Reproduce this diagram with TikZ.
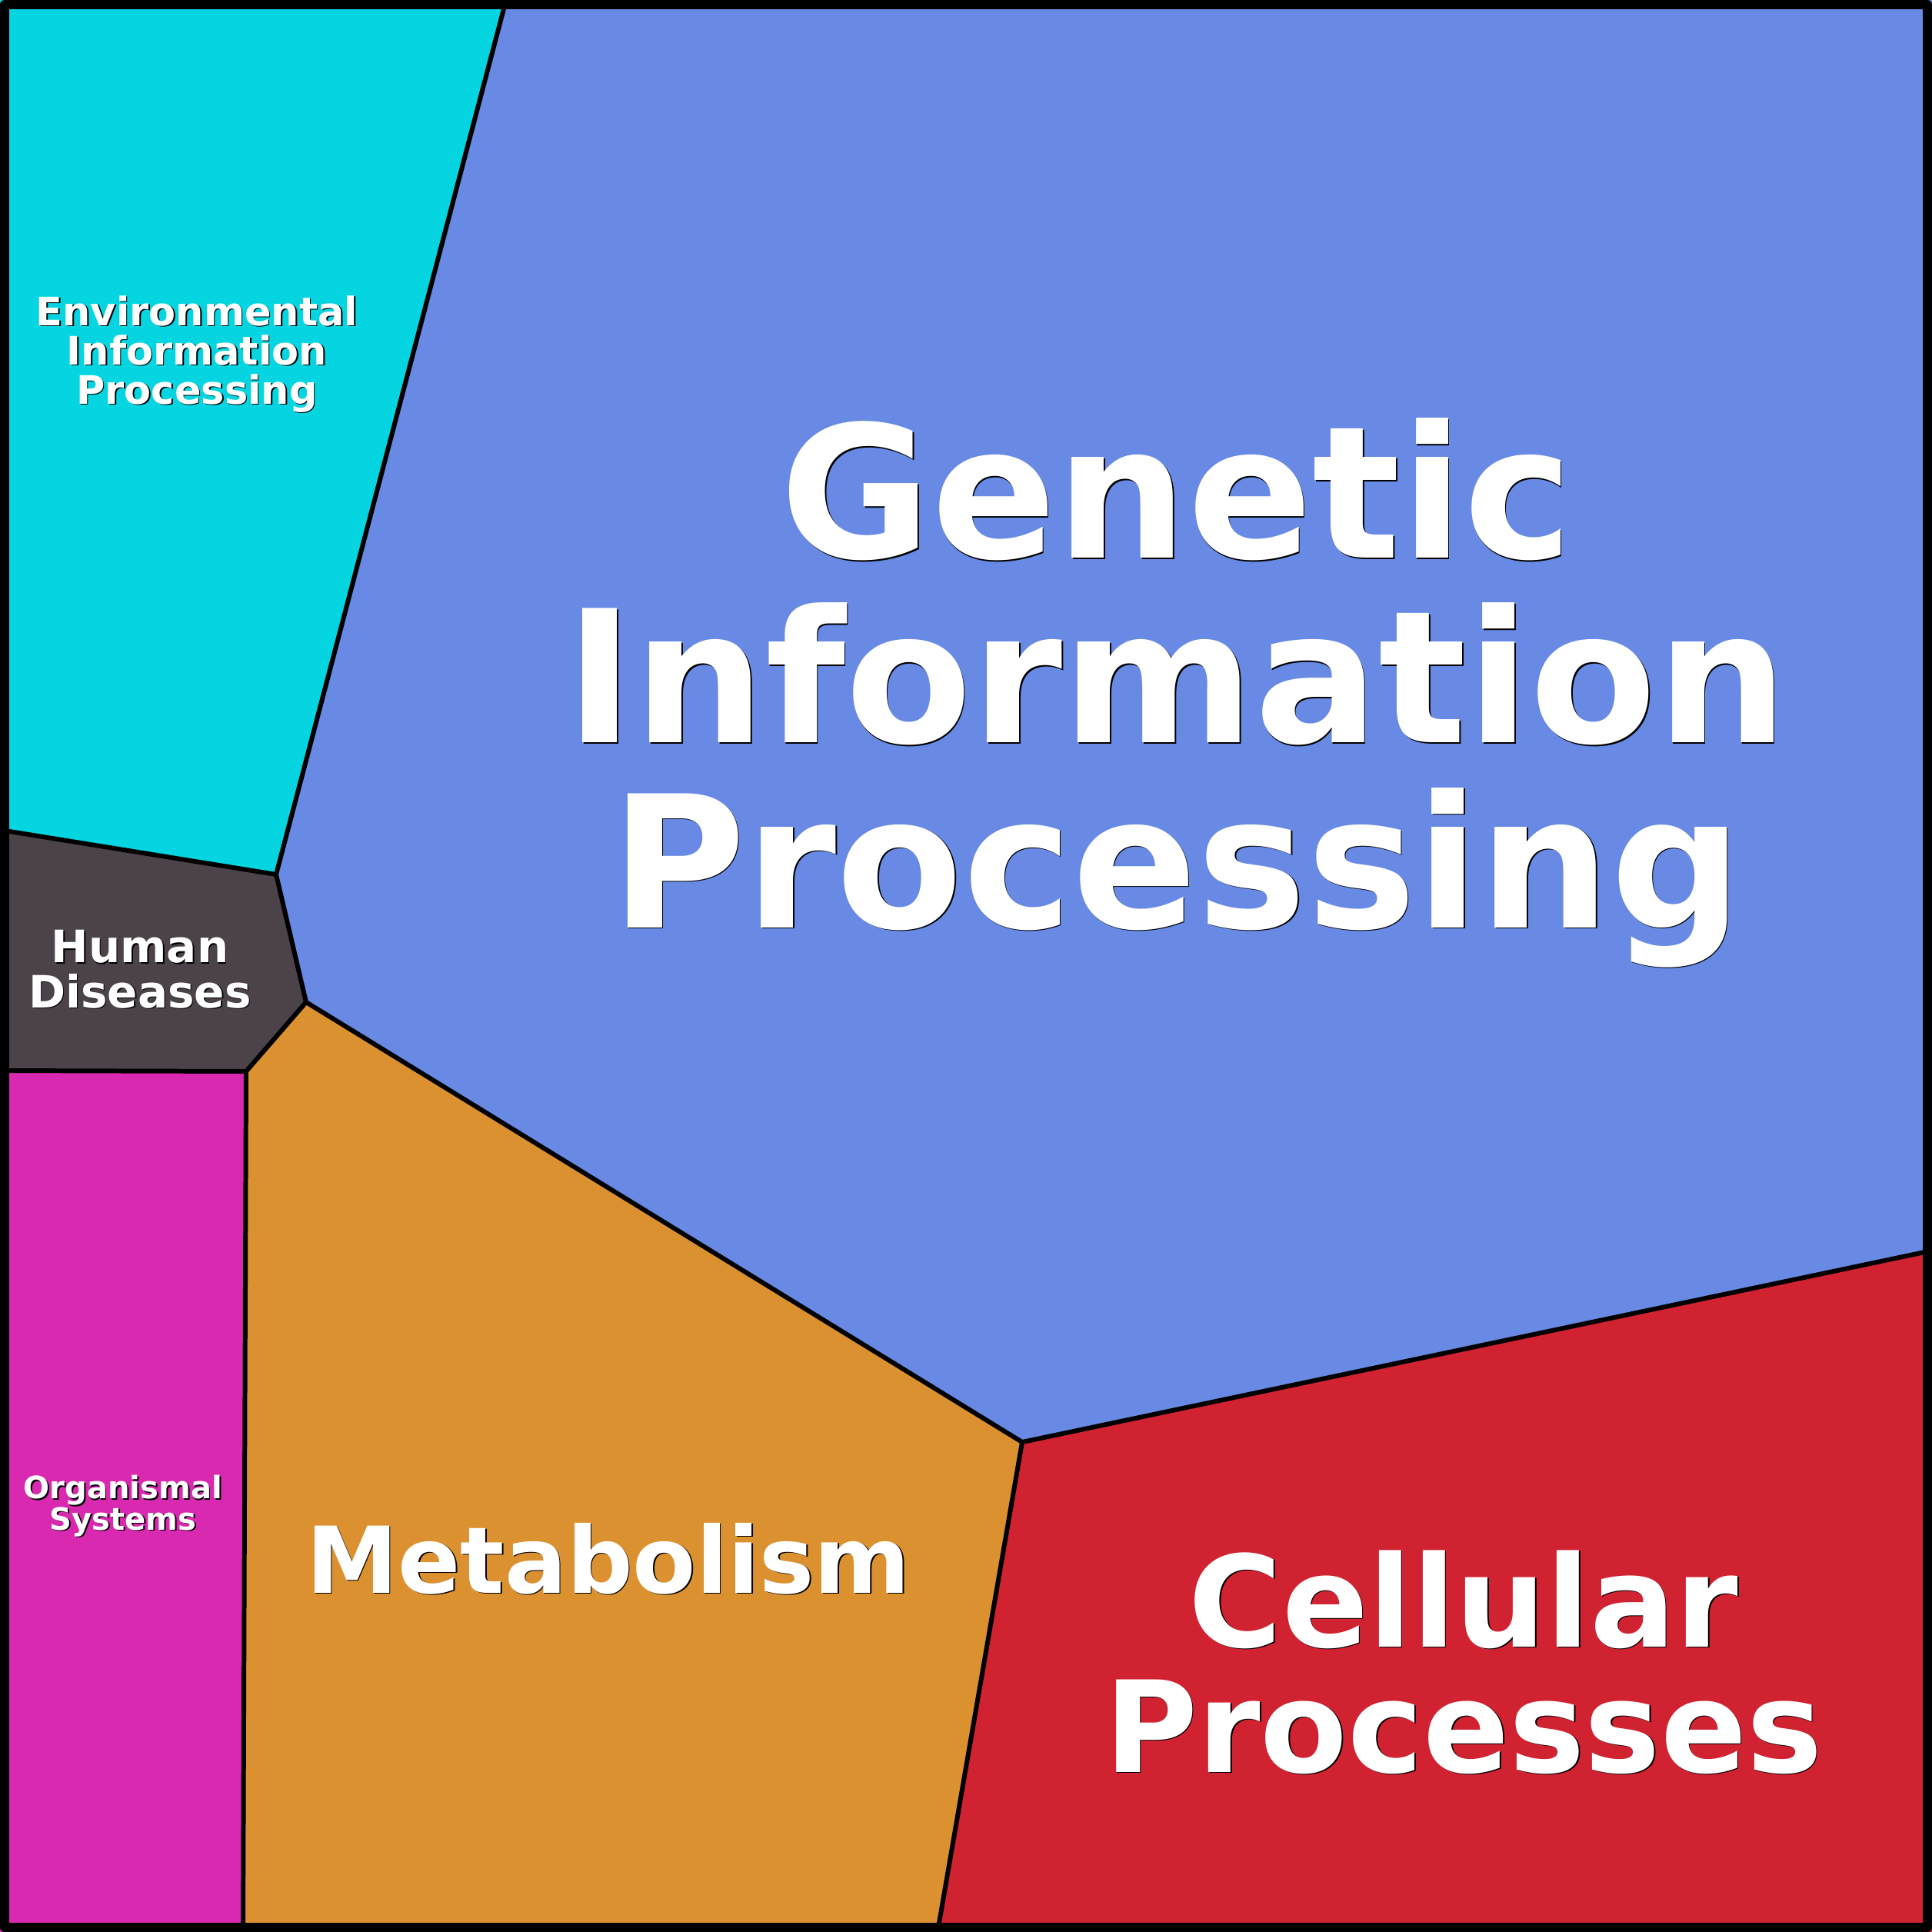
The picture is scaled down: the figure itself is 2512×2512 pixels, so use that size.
\documentclass[tikz,border=0pt]{standalone}
\usepackage{fontspec}
\setmainfont{DejaVu Sans}
\usepackage{tikz}

\definecolor{envcyan}{RGB}{5,213,224}
\definecolor{genblue}{RGB}{104,138,228}
\definecolor{humdark}{RGB}{76,66,74}
\definecolor{orgmagenta}{RGB}{217,41,176}
\definecolor{metorange}{RGB}{220,145,49}
\definecolor{celred}{RGB}{209,34,50}

\newcommand{\celllabel}[5]{%
  \node[labelshade,font=\fontsize{#3}{#4}\selectfont\bfseries] at (#2) {#5};
  \node[labeltext,font=\fontsize{#3}{#4}\selectfont\bfseries] (#1) at (#2) {#5};}

\begin{document}
\begin{tikzpicture}[line cap=round,line join=round,x=0.01cm,y=-0.01cm,
    cell/.style={draw=black,line width=1.7pt},
    labeltext/.style={text=white,align=center,inner sep=0pt,anchor=base},
    labelshade/.style={labeltext,text=black,xshift=0.45pt,yshift=-0.45pt}]
  \useasboundingbox (0,0) rectangle (2512,2512);
  % cells
  \fill[color=envcyan] (0,0) -- (658,0) -- (359,1137) -- (0,1079) -- cycle;
  \fill[color=genblue] (658,0) -- (2512,0) -- (2512,1626) -- (1329,1875) -- (398,1303) -- (359,1137) -- cycle;
  \fill[color=humdark] (0,1079) -- (359,1137) -- (398,1303) -- (320,1393) -- (0,1392) -- cycle;
  \fill[color=orgmagenta] (0,1392) -- (320,1393) -- (316,2512) -- (0,2512) -- cycle;
  \fill[color=metorange] (320,1393) -- (398,1303) -- (1329,1875) -- (1219,2512) -- (316,2512) -- cycle;
  \fill[color=celred] (1329,1875) -- (2512,1626) -- (2512,2512) -- (1219,2512) -- cycle;
  % borders
  \draw[cell] (658,0) -- (359,1137) -- (398,1303) -- (1329,1875) -- (2512,1626);
  \draw[cell] (0,1079) -- (359,1137);
  \draw[cell] (398,1303) -- (320,1393) -- (0,1392);
  \draw[cell] (320,1393) -- (316,2512);
  \draw[cell] (1329,1875) -- (1219,2512);
  \draw[line width=3.41pt] (6,6) rectangle (2506,2506);
  % labels
  \celllabel{env}{256,525}{14.5pt}{14.5pt}{Environmental\\Information\\Processing}
  \celllabel{gen}{1530,1206}{68.1pt}{68.3pt}{Genetic\\Information\\Processing}
  \celllabel{hum}{182,1310}{16.5pt}{16.5pt}{Human\\Diseases}
  \celllabel{org}{160,1989}{11.4pt}{11.4pt}{Organismal\\Systems}
  \celllabel{met}{791,2071}{34.1pt}{34.1pt}{Metabolism}
  \celllabel{cel}{1903,2304}{47pt}{46.3pt}{Cellular\\Processes}
\end{tikzpicture}
\end{document}
